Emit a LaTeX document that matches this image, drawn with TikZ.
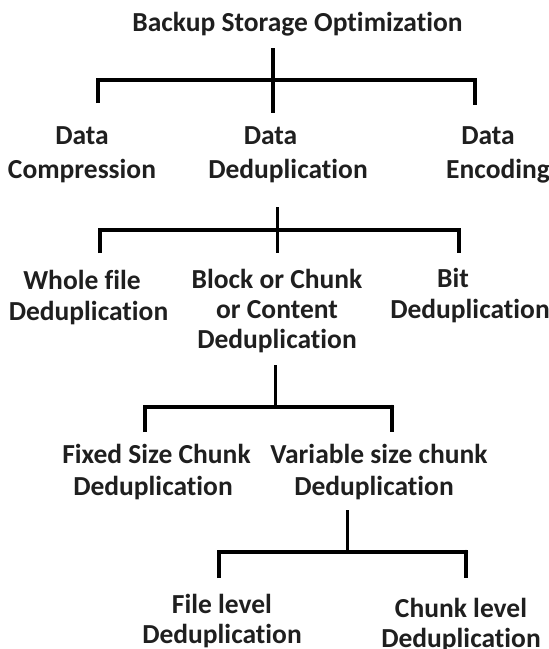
\documentclass[tikz,border=0pt]{standalone}
\usepackage{fontspec}
\setmainfont{Carlito}[Ligatures={NoCommon}]
\begin{document}
\begin{tikzpicture}[x=1pt,y=-1pt,
  every node/.style={inner sep=0pt},
  lbl/.style={font=\fontsize{27.5}{32}\selectfont\bfseries, align=center, anchor=base, text=black!88},
  sp/.style={font=\fontsize{27.5}{#1}\selectfont\bfseries},
  ln/.style={line width=3.2pt, line join=miter}]
\useasboundingbox (0,0) rectangle (549,649);
% labels (anchor = baseline of the last line)
\node[lbl] (root) at (297.5,31.7) {Backup Storage Optimization};
\node[lbl,sp=34] (comp) at (82,178) {Data\\Compression};
\node[lbl,sp=34] (dedup) at (288,178) {Data\hspace*{35pt}\\Deduplication};
\node[lbl,sp=34] (enc) at (498,178) {Data\hspace*{20pt}\\Encoding};
\node[lbl,sp=31] (whole) at (88.5,320) {Whole file\hspace*{13pt}\\Deduplication};
\node[lbl,sp=30] (block) at (277,348) {Block or Chunk\\or Content\hspace*{14pt}\\Deduplication};
\node[lbl,sp=31] (bit) at (470,318) {Bit\hspace*{34pt}\\Deduplication};
\node[lbl,sp=32] (fixed) at (156.5,495) {Fixed Size Chunk\\Deduplication\hspace*{7pt}};
\node[lbl,sp=32] (var) at (379,495) {Variable size chunk\\Deduplication\hspace*{10pt}};
\node[lbl,sp=30] (file) at (222,643) {File level\\Deduplication};
\node[lbl,sp=30] (chunk) at (461,647) {Chunk level\\Deduplication};
% tree 1
\coordinate (s1t) at (273,48);  \coordinate (s1b) at (273,113);
\coordinate (b1l) at (98,80);   \coordinate (b1r) at (475,80);
\coordinate (d1l) at (98,103);  \coordinate (d1r) at (475,105);
\draw[ln] (s1t) -- (s1b);
\draw[ln] (d1l) -- (b1l) -- (b1r) -- (d1r);
% tree 2
\coordinate (s2t) at (277.7,207); \coordinate (s2b) at (277.7,253);
\coordinate (b2l) at (100,230);   \coordinate (b2r) at (459,230);
\coordinate (d2l) at (100,253);   \coordinate (d2r) at (459,253);
\draw[ln] (s2t) -- (s2b);
\draw[ln] (d2l) -- (b2l) -- (b2r) -- (d2r);
% tree 3
\coordinate (s3t) at (275.5,365); \coordinate (s3b) at (275.5,407);
\coordinate (b3l) at (145,407);   \coordinate (b3r) at (392,407);
\coordinate (d3l) at (145,432);   \coordinate (d3r) at (392,432);
\draw[ln] (s3t) -- (s3b);
\draw[ln] (d3l) -- (b3l) -- (b3r) -- (d3r);
\fill (b3r) circle (2.2pt);
% tree 4
\coordinate (s4t) at (347.7,510); \coordinate (s4b) at (347.7,552);
\coordinate (b4l) at (219,552);   \coordinate (b4r) at (466,552);
\coordinate (d4l) at (219,578);   \coordinate (d4r) at (466,578);
\draw[ln] (s4t) -- (s4b);
\draw[ln] (d4l) -- (b4l) -- (b4r) -- (d4r);
\fill (b4r) circle (2.2pt);
\end{tikzpicture}
\end{document}
